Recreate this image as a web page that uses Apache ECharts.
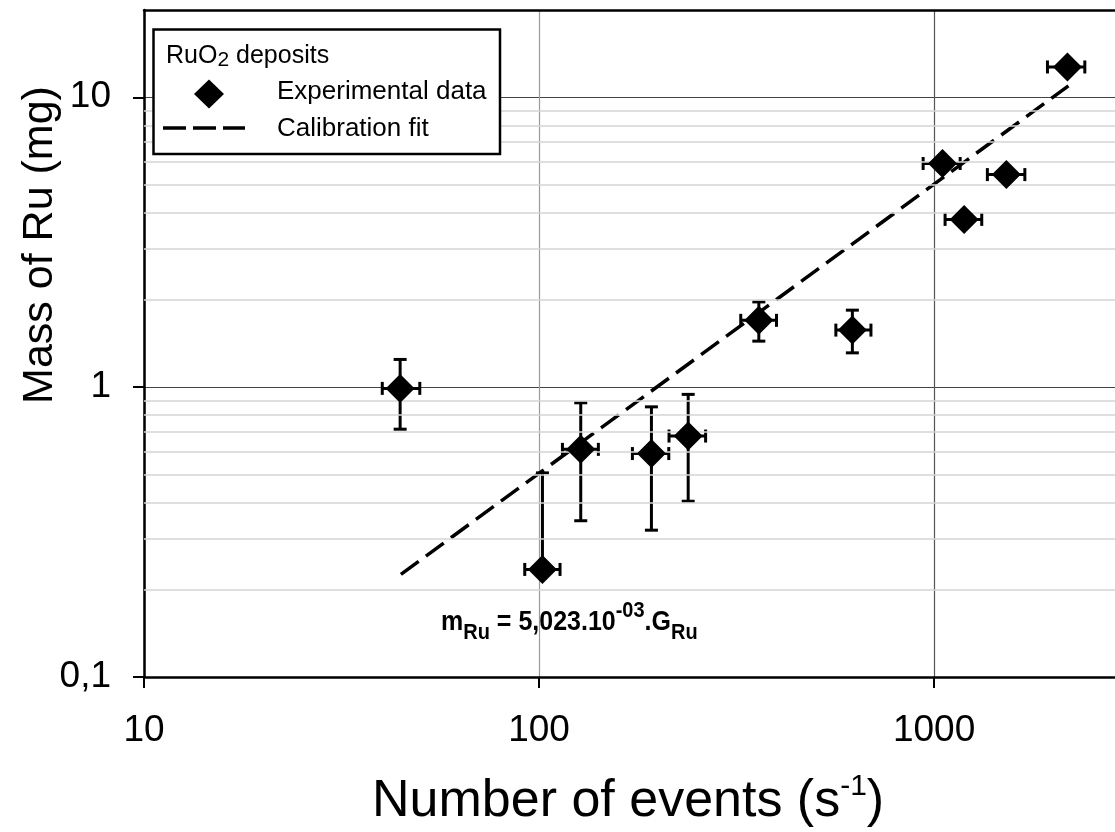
<!DOCTYPE html>
<html>
<head>
<meta charset="utf-8">
<script src="https://cdn.jsdelivr.net/npm/echarts@6/dist/echarts.min.js"></script>
<style>
html,body{margin:0;padding:0;background:#fff;}
#chart{width:1115px;height:832px;}
</style>
</head>
<body>
<div id="chart"></div>
<script>
// ---- data ----
const xVals    = [44.5, 102, 127.5, 192.5, 238.5, 360, 621, 1050, 1191, 1524, 2175];
const yVals    = [0.99, 0.235, 0.61, 0.59, 0.678, 1.70, 1.573, 5.91, 3.79, 5.41, 12.72];
const yErrLow  = [0.716, null, 0.346, 0.321, 0.404, 1.441, 1.313, null, null, null, null];
const yErrHigh = [1.246, 0.506, 0.883, 0.855, 0.944, 1.968, 1.843, null, null, null, null];
const xErrLow  = [40.1, 92.0, 114.6, 172.3, 213.3, 324, 564, 938, 1066, 1364, 1936];
const xErrHigh = [49.9, 113, 141.3, 213, 264, 399, 692, 1164, 1320, 1697, 2407];
const fitX = [44.7, 2188];
const fitY = [0.226, 10.95];
const xTicks = [10, 100, 1000];
const yTicks = [0.1, 1, 10];
const yMinorGrid = [0.2, 0.3, 0.4, 0.5, 0.6, 0.7, 0.8, 0.9, 2, 3, 4, 5, 6, 7, 8, 9];
const X_MIN = 10, X_MAX = 2870, Y_MIN = 0.1, Y_MAX = 20;

const FONT = "'Liberation Sans', Arial, sans-serif";

function fmt(v) {
  const l = Math.log10(v), r = Math.round(l);
  if (Math.abs(l - r) > 1e-6) return '';
  return String(Math.pow(10, r)).replace('.', ',');
}

const chart = echarts.init(document.getElementById('chart'), null, {renderer: 'canvas'});

const pts = xVals.map((x, i) => [x, yVals[i]]);

const option = {
  animation: false,
  backgroundColor: '#fff',
  grid: {left: 144, right: 0, top: 10, height: 667, containLabel: false},
  xAxis: [{
    type: 'log', logBase: 10, min: X_MIN, max: X_MAX,
    axisLine: {show: true, lineStyle: {color: '#000', width: 2.5}},
    axisTick: {show: true, inside: false, length: 11, lineStyle: {color: '#000', width: 2}, customValues: xTicks},
    axisLabel: {show: true, margin: 35, fontSize: 37, color: '#000', fontFamily: FONT, lineHeight: 37, formatter: fmt, customValues: xTicks},
    splitLine: {show: true, lineStyle: {color: ['#000', '#9a9a9a', '#555', '#fff'], width: 1.2}},
    minorTick: {show: false}
  }, {
    type: 'log', logBase: 10, min: X_MIN, max: X_MAX, position: 'top',
    axisLine: {show: true, lineStyle: {color: '#000', width: 2.5}},
    axisTick: {show: false}, axisLabel: {show: false}, splitLine: {show: false}
  }],
  yAxis: {
    type: 'log', logBase: 10, min: Y_MIN, max: Y_MAX,
    axisLine: {show: true, lineStyle: {color: '#000', width: 2.5}},
    axisTick: {show: true, inside: false, length: 11, lineStyle: {color: '#000', width: 2}, customValues: yTicks},
    axisLabel: {show: true, margin: 33, fontSize: 37, color: '#000', fontFamily: FONT, formatter: fmt, customValues: yTicks},
    splitLine: {show: true, lineStyle: {color: '#444', width: 1.2}}
  },
  series: [
    {
      name: 'minorGrid', type: 'line', data: [], z: 0, silent: true,
      markLine: {
        silent: true, symbol: ['none', 'none'], label: {show: false},
        lineStyle: {color: '#d4d4d4', width: 1.5, type: 'solid'},
        data: yMinorGrid.map(v => ({yAxis: v}))
      }
    },
    {
      name: 'Calibration fit', type: 'line', z: 3,
      data: fitX.map((x, i) => [x, fitY[i]]),
      symbol: 'none',
      lineStyle: {color: '#000', width: 3.5, type: [22, 9]}
    },
    {
      name: 'errors', type: 'custom', z: 4, silent: true,
      data: pts,
      encode: {x: 0, y: 1},
      renderItem: function (params, api) {
        const i = params.dataIndex;
        const c = api.coord([xVals[i], yVals[i]]);
        const st = {stroke: '#000', lineWidth: 3, fill: null};
        const cap = 6.5;
        const ch = [];
        const xl = api.coord([xErrLow[i], yVals[i]])[0];
        const xh = api.coord([xErrHigh[i], yVals[i]])[0];
        ch.push({type: 'line', shape: {x1: xl, y1: c[1], x2: xh, y2: c[1]}, style: st});
        ch.push({type: 'line', shape: {x1: xl, y1: c[1] - cap, x2: xl, y2: c[1] + cap}, style: st});
        ch.push({type: 'line', shape: {x1: xh, y1: c[1] - cap, x2: xh, y2: c[1] + cap}, style: st});
        if (yErrHigh[i] != null) {
          const yh = api.coord([xVals[i], yErrHigh[i]])[1];
          ch.push({type: 'line', shape: {x1: c[0], y1: c[1], x2: c[0], y2: yh}, style: st});
          ch.push({type: 'line', shape: {x1: c[0] - cap, y1: yh, x2: c[0] + cap, y2: yh}, style: st});
        }
        if (yErrLow[i] != null) {
          const yl = api.coord([xVals[i], yErrLow[i]])[1];
          ch.push({type: 'line', shape: {x1: c[0], y1: c[1], x2: c[0], y2: yl}, style: st});
          ch.push({type: 'line', shape: {x1: c[0] - cap, y1: yl, x2: c[0] + cap, y2: yl}, style: st});
        }
        return {type: 'group', children: ch};
      }
    },
    {
      name: 'Experimental data', type: 'scatter', z: 5,
      data: pts,
      symbol: 'diamond', symbolSize: 29,
      itemStyle: {color: '#000', opacity: 1}
    }
  ],
  graphic: [
    {type: 'rect', z: 100, shape: {x: 153.5, y: 29.5, width: 346.5, height: 124.5},
      style: {fill: '#fff', stroke: '#000', lineWidth: 2.5}},
    {type: 'text', z: 101, x: 166, y: 56,
      style: {text: '{a|RuO}{s|2}{a| deposits}', verticalAlign: 'middle', align: 'left',
        rich: {
          a: {fontSize: 25, fontFamily: FONT, fill: '#000', lineHeight: 30, verticalAlign: 'middle'},
          s: {fontSize: 21, fontFamily: FONT, fill: '#000', lineHeight: 18, verticalAlign: 'bottom'}
        }}},
    {type: 'polygon', z: 101, shape: {points: [[209, 79.5], [224, 94], [209, 108.5], [194, 94]]}, style: {fill: '#000'}},
    {type: 'text', z: 101, x: 277, y: 92,
      style: {text: 'Experimental data', fontSize: 26, fontFamily: FONT, fill: '#000', verticalAlign: 'middle'}},
    {type: 'line', z: 101, shape: {x1: 163, y1: 128, x2: 245, y2: 128},
      style: {stroke: '#000', lineWidth: 3.5, lineDash: [23, 7]}},
    {type: 'text', z: 101, x: 277, y: 129,
      style: {text: 'Calibration fit', fontSize: 26, fontFamily: FONT, fill: '#000', verticalAlign: 'middle'}},
    {type: 'text', z: 101, x: 441, y: 622, scaleY: 1.12,
      style: {text: '{m|m}{s|Ru}{m| = 5,023.10}{p|-03}{m|.G}{s|Ru}', verticalAlign: 'middle', align: 'left',
        rich: {
          m: {fontSize: 25, fontWeight: 'bold', fontFamily: FONT, fill: '#000', lineHeight: 40, verticalAlign: 'middle'},
          s: {fontSize: 20, fontWeight: 'bold', fontFamily: FONT, fill: '#000', lineHeight: 20, verticalAlign: 'bottom'},
          p: {fontSize: 20, fontWeight: 'bold', fontFamily: FONT, fill: '#000', lineHeight: 16, verticalAlign: 'top'}
        }}},
    {type: 'text', z: 101, x: 372, y: 802,
      style: {text: '{a|Number of events (s}{p|-1}{a|)}', verticalAlign: 'middle', align: 'left',
        rich: {
          a: {fontSize: 52, fontFamily: FONT, fill: '#000', lineHeight: 60, verticalAlign: 'middle'},
          p: {fontSize: 30, fontFamily: FONT, fill: '#000', lineHeight: 8, verticalAlign: 'top'}
        }}},
    {type: 'text', z: 101, x: 40, y: 245, rotation: Math.PI / 2,
      style: {text: 'Mass of Ru (mg)', fontSize: 43, fontFamily: FONT, fill: '#000', align: 'center', verticalAlign: 'middle'}}
  ]
};

chart.setOption(option);
</script>
</body>
</html>
